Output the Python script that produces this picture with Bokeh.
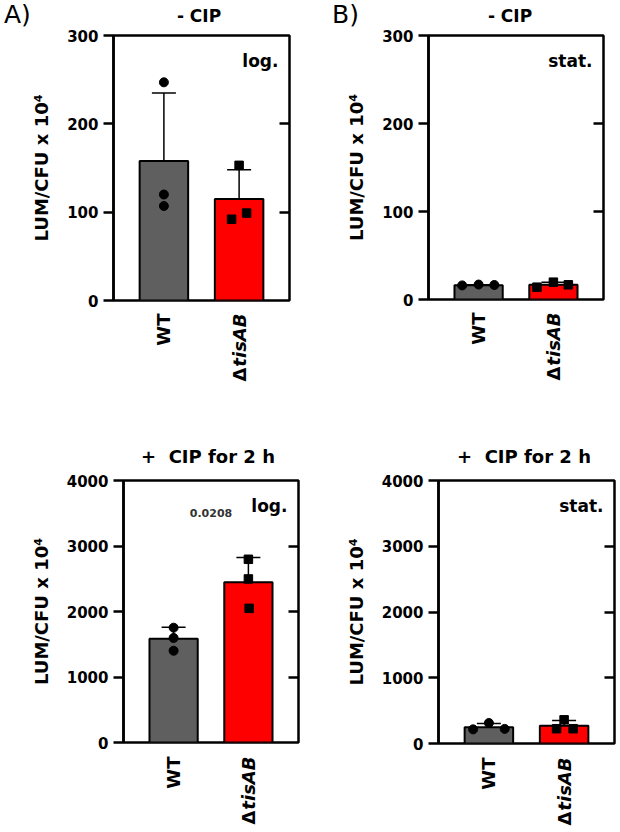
import math
from bokeh.plotting import figure
from bokeh.models import (Range1d, LinearAxis, FixedTicker, Whisker, TeeHead,
                          ColumnDataSource, Label, Div)
from bokeh.layouts import column, row
from bokeh.core.properties import value
from bokeh.embed import file_html
from bokeh.resources import INLINE

FONT = "DejaVu Sans"

categories = ["WT", "ΔtisAB"]
bar_colors = ["#5f5f5f", "#ff0000"]
y_label = "LUM/CFU x 10\u2074"

# A) log. phase, - CIP
a_nocip_mean = [158, 115]
a_nocip_sd = [77, 33]
a_nocip_wt = [247, 120, 107]
a_nocip_tis = [153, 92, 99]
a_nocip_wt_dx = [0, 0, 0]
a_nocip_tis_dx = [0, -0.1, 0.1]
a_nocip_ticks = [0, 100, 200, 300]

# B) stat. phase, - CIP
b_nocip_mean = [16.3, 16.8]
b_nocip_sd = [0.6, 2.9]
b_nocip_wt = [16, 17, 16.5]
b_nocip_tis = [14, 19.7, 16.7]
b_nocip_wt_dx = [-0.22, 0, 0.21]
b_nocip_tis_dx = [-0.22, 0, 0.2]
b_nocip_ticks = [0, 100, 200, 300]

# A) log. phase, + CIP for 2 h
a_cip_mean = [1583, 2447]
a_cip_sd = [176, 377]
a_cip_wt = [1753, 1596, 1401]
a_cip_tis = [2797, 2497, 2048]
a_cip_wt_dx = [0, 0, 0]
a_cip_tis_dx = [0, 0, 0.01]
a_cip_ticks = [0, 1000, 2000, 3000, 4000]
a_cip_pvalue = "0.0208"
a_cip_pvalue_pos = (1.5, 3500)

# B) stat. phase, + CIP for 2 h
b_cip_mean = [249, 270]
b_cip_sd = [54, 78]
b_cip_wt = [215, 312, 222]
b_cip_tis = [360, 225, 225]
b_cip_wt_dx = [-0.21, 0, 0.21]
b_cip_tis_dx = [0, -0.1, 0.12]
b_cip_ticks = [0, 1000, 2000, 3000, 4000]

XR = (0.33, 2.67)
PAD_TOP = 9
PAD_BOTTOM = 12


def header(W, H, items):
    parts = []
    for txt, left, top, size, weight, width, align in items:
        parts.append(
            f'<div style="position:absolute;left:{left}px;top:{top}px;width:{width}px;'
            f'text-align:{align};font-family:\'{FONT}\';font-size:{size}px;'
            f'font-weight:{weight};line-height:1;white-space:pre;color:black;">{txt}</div>')
    html = (f'<div style="position:relative;width:{W}px;height:{H}px;margin:0;padding:0;">'
            + "".join(parts) + '</div>')
    return Div(text=html, width=W, height=H, margin=0)


def footer(W, H, bl, br):
    p = figure(width=W, height=H, x_range=Range1d(*XR), y_range=Range1d(-H, 0),
               x_axis_location=None, y_axis_location=None, title=None,
               output_backend="svg", toolbar_location=None,
               min_border_left=bl, min_border_right=br, min_border_top=0,
               min_border_bottom=0)
    p.outline_line_color = None
    p.grid.visible = False
    p.background_fill_color = "white"
    p.border_fill_color = "white"
    return p


def panel(title, title_size, title_top, title_cx, ticks, mean, sd, wt, tis, wt_dx, tis_dx,
          phase, letter, letter_x, W, row_h, frame_top, bl, fw, fh, cat_gap,
          pval=None, pval_pos=None):
    br = W - bl - fw
    head_h = frame_top - PAD_TOP
    main_h = PAD_TOP + fh + PAD_BOTTOM
    foot_h = row_h - head_h - main_h

    # ---------- header: panel letter and title
    items = [(title, title_cx - 100, title_top, title_size, "bold", 200, "center")]
    if letter:
        items.append((letter, letter_x, 2, 25, "normal", 40, "left"))
    hd = header(W, head_h, items)

    # ---------- main plot
    ymax = ticks[-1]
    p = figure(width=W, height=main_h, x_range=Range1d(*XR), y_range=Range1d(0, ymax),
               x_axis_location=None, title=None,
               output_backend="svg", toolbar_location=None,
               min_border_left=bl, min_border_right=br, min_border_top=PAD_TOP,
               min_border_bottom=PAD_BOTTOM)
    p.grid.visible = False
    p.outline_line_color = "black"
    p.outline_line_width = 2.5
    p.background_fill_color = "white"
    p.border_fill_color = "white"

    p.yaxis.ticker = FixedTicker(ticks=ticks)
    p.yaxis.minor_tick_line_color = None
    p.yaxis.major_tick_out = 10
    p.yaxis.major_tick_in = 0
    p.yaxis.major_tick_line_width = 2.5
    p.yaxis.axis_line_width = 2.5
    p.yaxis.axis_line_color = "black"
    p.yaxis.major_label_text_font = FONT
    p.yaxis.major_label_text_font_style = "bold"
    p.yaxis.major_label_text_font_size = "15px"
    p.yaxis.major_label_text_color = "black"
    p.yaxis.major_label_standoff = 5
    p.yaxis.axis_label = y_label
    p.yaxis.axis_label_text_font = FONT
    p.yaxis.axis_label_text_font_style = "bold"
    p.yaxis.axis_label_text_font_size = "18px"
    p.yaxis.axis_label_text_color = "black"
    p.yaxis.axis_label_standoff = 12

    rax = LinearAxis(ticker=FixedTicker(ticks=ticks[1:-1]), major_tick_in=10,
                     major_tick_out=0, major_tick_line_width=2.5, axis_line_color=None,
                     minor_tick_line_color=None, major_label_text_font_size="1px",
                     major_label_text_color=None, major_label_standoff=0)
    p.add_layout(rax, "right")

    xs = [1, 2]
    p.vbar(x=xs, top=mean, bottom=0, width=0.645, fill_color=bar_colors,
           line_color="black", line_width=2)

    upper = [m + s for m, s in zip(mean, sd)]
    lower = [m - s for m, s in zip(mean, sd)]
    src = ColumnDataSource(dict(base=xs, upper=upper, lower=lower))
    p.add_layout(Whisker(base="base", upper="upper", lower="lower", source=src,
                         line_color="black", line_width=1.5,
                         upper_head=TeeHead(size=24, line_width=1.5, line_color="black"),
                         lower_head=TeeHead(size=24, line_width=1.5, line_color="black")))

    p.scatter(x=[1 + d for d in wt_dx], y=wt, marker="circle", size=9,
              fill_color="black", line_color="black")
    p.scatter(x=[2 + d for d in tis_dx], y=tis, marker="square", size=8.5,
              fill_color="black", line_color="black")

    p.add_layout(Label(x=XR[1], y=ymax, x_offset=-11, y_offset=-15, text=phase,
                       text_align="right", text_baseline="top", text_font=FONT,
                       text_font_style="bold", text_font_size="17px", text_color="black"))
    if pval:
        p.add_layout(Label(x=pval_pos[0], y=pval_pos[1], text=pval, text_align="center",
                           text_baseline="middle", text_font=FONT, text_font_style="bold",
                           text_font_size="11px", text_color="#333333"))

    # ---------- footer: rotated category labels
    ft = footer(W, foot_h, bl, br)
    top = -max(cat_gap - PAD_BOTTOM, 1)
    common = dict(angle=math.pi / 2, text_align="right", text_baseline="middle",
                  text_font=value(FONT), text_font_size="18px", text_color="black")
    ft.text(x=[1], y=[top], text=[categories[0]], text_font_style="bold", **common)
    ft.text(x=[2], y=[top], text=[categories[1][1:]], text_font_style="bold italic",
            **common)
    ft.text(x=[2], y=[top - 54], text=[categories[1][0]], text_font_style="bold",
            **common)

    return column(hd, p, ft, spacing=0)


c1 = panel("- CIP", 17, 8, 199, a_nocip_ticks, a_nocip_mean, a_nocip_sd, a_nocip_wt,
           a_nocip_tis, a_nocip_wt_dx, a_nocip_tis_dx, "log.", "A)", 4,
           310, 420, 35, 113, 176, 265, 13)
c2 = panel("- CIP", 17, 8, 200, b_nocip_ticks, b_nocip_mean, b_nocip_sd, b_nocip_wt,
           b_nocip_tis, b_nocip_wt_dx, b_nocip_tis_dx, "stat.", "B)", 22,
           310, 420, 35, 118, 175, 264, 13)
c3 = panel("+  CIP for 2 h", 18, 28, 208, a_cip_ticks, a_cip_mean, a_cip_sd, a_cip_wt,
           a_cip_tis, a_cip_wt_dx, a_cip_tis_dx, "log.", None, 0,
           310, 412, 60, 123, 175, 262, 14, pval=a_cip_pvalue, pval_pos=a_cip_pvalue_pos)
c4 = panel("+  CIP for 2 h", 18, 28, 214, b_cip_ticks, b_cip_mean, b_cip_sd, b_cip_wt,
           b_cip_tis, b_cip_wt_dx, b_cip_tis_dx, "stat.", None, 0,
           310, 412, 60, 128, 176, 263, 14)

layout = column(row(c1, c2, spacing=0), row(c3, c4, spacing=0), spacing=0)
open("out.html", "w").write(file_html(layout, INLINE))
